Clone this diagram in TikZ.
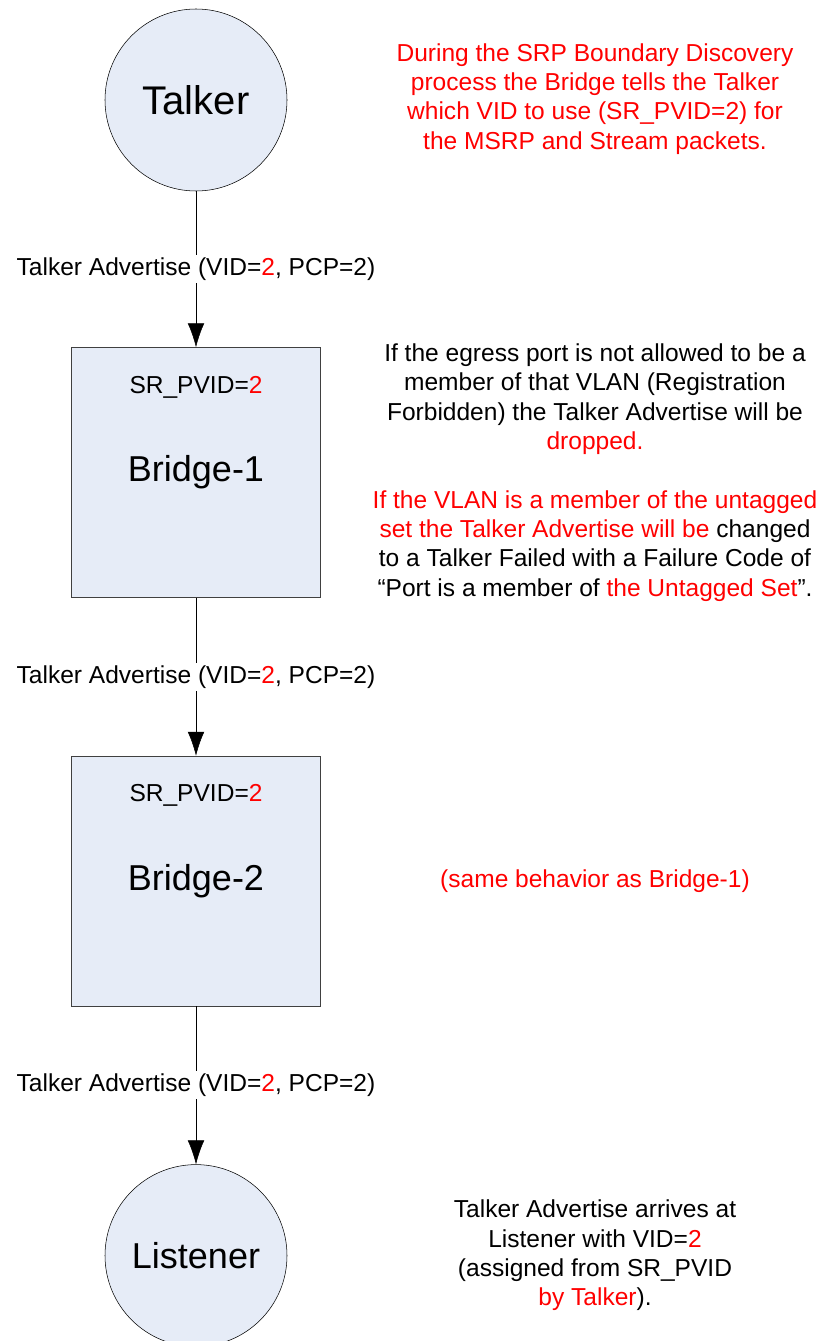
\documentclass[tikz,border=0pt]{standalone}
\usepackage{fontspec}
\setmainfont{Liberation Sans}
\usetikzlibrary{arrows.meta,positioning}
\definecolor{boxfill}{RGB}{230,236,247}
\newcommand{\redtxt}[1]{\textcolor{red}{#1}}
\tikzset{
    station/.style   = {shape=circle, draw, fill=boxfill,
        minimum size=136.5pt, inner sep=0pt,
        font=\fontsize{27}{32}\selectfont},
    bridge/.style    = {shape=rectangle, draw=black!75, fill=boxfill,
        minimum width=186.75pt, minimum height=187.5pt,
        font=\fontsize{27}{32}\selectfont},
    pvid/.style      = {font=\fontsize{18.4}{22}\selectfont},
    note/.style      = {align=center, inner sep=0pt,
        font=\fontsize{18.4}{22}\selectfont},
    flow/.style      = {draw, -{Latex[length=18pt,width=12.5pt]}},
    flowlabel/.style = {fill=white, inner sep=2pt,
        font=\fontsize{18.4}{22}\selectfont}
}

\begin{document}
\begin{tikzpicture}[x=0.75pt, y=-0.75pt]
    \useasboundingbox (0,0) rectangle (824,1341);

    \node[station, font=\fontsize{30}{36}\selectfont] (talker) at (196,100) {Talker};
    \node[bridge, below=117pt of talker] (bridgeA) {Bridge-1};
    \node[bridge, below=118.5pt of bridgeA] (bridgeB) {Bridge-2};
    \node[station, below=118.5pt of bridgeB] (listener) {Listener};

    \node[pvid] (pvidA) at ([yshift=-30pt]bridgeA.north) {SR\_PVID=\redtxt{2}};
    \node[pvid] (pvidB) at ([yshift=-30pt]bridgeB.north) {SR\_PVID=\redtxt{2}};

    \path[flow] (talker) -- node[flowlabel] {Talker Advertise (VID=\redtxt{2}, PCP=2)} (bridgeA);
    \path[flow] (bridgeA) -- node[flowlabel] {Talker Advertise (VID=\redtxt{2}, PCP=2)} (bridgeB);
    \path[flow] (bridgeB) -- node[flowlabel] {Talker Advertise (VID=\redtxt{2}, PCP=2)} (listener);

    % notes on the right
    \coordinate (noteCol) at (595,0);
    \node[note, text=red] (talkerNote) at ([yshift=1pt]talker -| noteCol)
        {During the SRP Boundary Discovery\\
         process the Bridge tells the Talker\\
         which VID to use (SR\_PVID=2) for\\
         the MSRP and Stream packets.};
    \node[note] (bridgeANote) at (bridgeA -| noteCol)
        {If the egress port is not allowed to be a\\
         member of that VLAN (Registration\\
         Forbidden) the Talker Advertise will be\\
         \redtxt{dropped.}\\[22pt]
         \redtxt{If the VLAN is a member of the untagged}\\
         \redtxt{set the Talker Advertise will be} changed\\
         to a Talker Failed with a Failure Code of\\
         “Port is a member of \redtxt{the Untagged Set}”.};
    \node[note, text=red] (bridgeBNote) at (bridgeB -| noteCol)
        {(same behavior as Bridge-1)};
    \node[note] (listenerNote) at (listener -| noteCol)
        {Talker Advertise arrives at\\
         Listener with VID=\redtxt{2}\\
         (assigned from SR\_PVID\\
         \redtxt{by Talker}).};
\end{tikzpicture}
\end{document}
